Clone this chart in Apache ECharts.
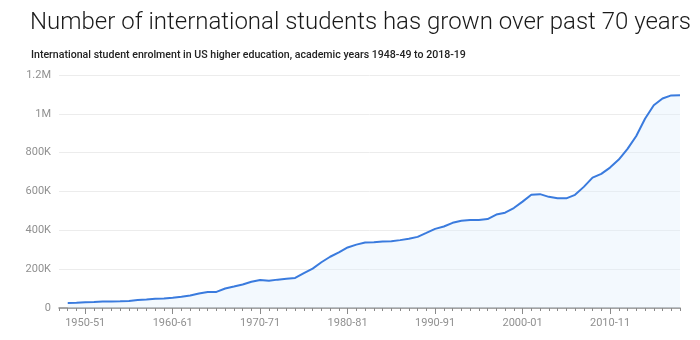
<!DOCTYPE html>
<html>
<head>
<meta charset="utf-8">
<script src="https://cdn.jsdelivr.net/npm/echarts@6/dist/echarts.min.js"></script>
<style>
  html, body { margin: 0; padding: 0; background: #fff; }
  #chart { width: 700px; height: 340px; }
</style>
</head>
<body>
<div id="chart"></div>
<script>
// Academic years: a leading blank year gives the axis its left margin.
const years = [
  '1947-48',
  '1948-49','1949-50','1950-51','1951-52','1952-53','1953-54','1954-55','1955-56','1956-57','1957-58',
  '1958-59','1959-60','1960-61','1961-62','1962-63','1963-64','1964-65','1965-66','1966-67','1967-68',
  '1968-69','1969-70','1970-71','1971-72','1972-73','1973-74','1974-75','1975-76','1976-77','1977-78',
  '1978-79','1979-80','1980-81','1981-82','1982-83','1983-84','1984-85','1985-86','1986-87','1987-88',
  '1988-89','1989-90','1990-91','1991-92','1992-93','1993-94','1994-95','1995-96','1996-97','1997-98',
  '1998-99','1999-00','2000-01','2001-02','2002-03','2003-04','2004-05','2005-06','2006-07','2007-08',
  '2008-09','2009-10','2010-11','2011-12','2012-13','2013-14','2014-15','2015-16','2016-17','2017-18',
  '2018-19'
];

// International student enrolment per academic year
const students = [
  null,
  25464, 26433, 29813, 30462, 33675, 33833, 34232, 36494, 40666, 43391,
  47245, 48486, 53107, 58086, 64705, 74814, 82045, 82709, 100262, 110315,
  121362, 134959, 144708, 140126, 146097, 151066, 154580, 179344, 203068, 235509,
  263938, 286343, 311882, 326299, 336985, 338894, 342113, 343777, 349609, 356187,
  366354, 386851, 407529, 419585, 438618, 449749, 452653, 453787, 457984, 481280,
  490933, 514723, 547867, 582996, 586323, 572509, 565039, 564766, 582984, 623805,
  671616, 690923, 723277, 764495, 819644, 886052, 974926, 1043839, 1078822, 1094792,
  1095299
];

const yTicks = [0, 200000, 400000, 600000, 800000, 1000000, 1200000];

function fmtY(v) {
  if (v === 0) return '0';
  if (v >= 1000000) return (v / 1000000) + 'M';
  return (v / 1000) + 'K';
}
const isDecade = (idx) => years[idx] && years[idx].slice(0, 4) % 10 === 0;

const chart = echarts.init(document.getElementById('chart'), null, { renderer: 'canvas' });

chart.setOption({
  animation: false,
  backgroundColor: '#ffffff',
  title: [
    {
      text: 'Number of international students has grown over past 70 years',
      left: 25, top: 6,
      textStyle: { fontFamily: 'Roboto', fontWeight: 300, fontSize: 24, color: '#1a1a1a' }
    },
    {
      text: 'International student enrolment in US higher education, academic years 1948-49 to 2018-19',
      left: 26, top: 45,
      textStyle: { fontFamily: 'Roboto', fontWeight: 500, fontSize: 10.6, color: '#222' }
    }
  ],
  grid: { left: 59, right: 20, top: 75, bottom: 32, containLabel: false },
  xAxis: [
    {
      type: 'category',
      data: years,
      boundaryGap: false,
      axisLine: { lineStyle: { color: '#8a8a8a', width: 1.5 } },
      axisTick: { interval: 0, length: 3, lineStyle: { color: '#8a8a8a' } },
      axisLabel: { show: false }
    },
    {
      type: 'category',
      data: years,
      boundaryGap: false,
      position: 'bottom',
      axisLine: { show: false },
      axisTick: { interval: (i) => isDecade(i), length: 6, lineStyle: { color: '#8a8a8a' } },
      axisLabel: {
        interval: (i) => isDecade(i),
        color: '#909090', fontFamily: 'Roboto', fontSize: 11, margin: 10
      }
    }
  ],
  yAxis: {
    type: 'value',
    min: yTicks[0],
    max: yTicks[yTicks.length - 1],
    interval: yTicks[1] - yTicks[0],
    axisLine: { show: false },
    axisTick: { show: false },
    axisLabel: { formatter: fmtY, color: '#909090', fontFamily: 'Roboto', fontSize: 11, margin: 8 },
    splitLine: { lineStyle: { color: '#ececec', width: 1 } }
  },
  series: [
    {
      type: 'line',
      data: students,
      xAxisIndex: 0,
      showSymbol: false,
      connectNulls: false,
      lineStyle: { color: '#3a7bde', width: 2 },
      itemStyle: { color: '#3a7bde' },
      areaStyle: { color: 'rgba(220, 238, 251, 0.5)' }
    }
  ]
});
</script>
</body>
</html>
